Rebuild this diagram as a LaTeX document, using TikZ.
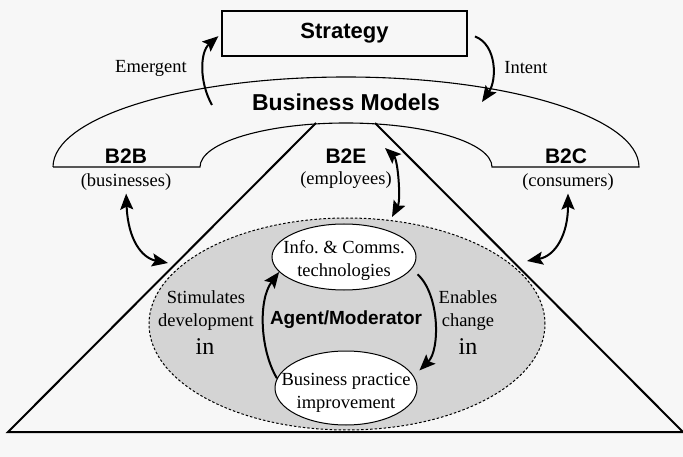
\documentclass[tikz,border=0pt]{standalone}
\usepackage{fontspec}
\setmainfont{Liberation Serif}
\setsansfont{Liberation Sans}
\usetikzlibrary{arrows.meta,shapes.geometric}

\begin{document}
\begin{tikzpicture}[x=1pt,y=-1pt,
	headtxt/.style={font=\sffamily\bfseries\fontsize{#1}{#1}\selectfont, inner sep=0pt},
	txt/.style={font=\fontsize{18.5}{23}\selectfont, inner sep=0pt, align=center},
	intxt/.style={font=\fontsize{24}{24}\selectfont, inner sep=0pt},
	arr/.style={line width=2pt, -{Stealth[length=16pt,width=13pt,inset=3pt]}},
	dblarr/.style={line width=2pt, {Stealth[length=16pt,width=13pt,inset=3pt]}-{Stealth[length=16pt,width=13pt,inset=3pt]}},
	oval/.style={ellipse, draw, line width=1pt, fill=white, inner sep=0pt}]
	\useasboundingbox (0,0) rectangle (683,457);
	\fill[black!3] (0,0) rectangle (683,457);

	\node[ellipse, draw, dash pattern=on 2.5pt off 2pt, line width=1pt, fill=black!17,
		minimum width=396pt, minimum height=212pt] (agent) at (347,324) {};
	\draw[line width=2pt] (316,123) -- (8,432) -- (683,432) -- (375,123);
	\draw[line width=1.1pt] (53,167) -- (200,167)
		arc[start angle=180, end angle=360, x radius=146, y radius=44] -- (639,167)
		arc[start angle=0, end angle=-180, x radius=293, y radius=90];

	\node[draw, line width=1.1pt, minimum width=245pt, minimum height=45pt, headtxt=22] (strategy) at (344.5,33.5) {Strategy};
	\node[headtxt=23] (bm) at (346,102) {Business Models};
	\node[txt] (emergent) at (151,68) {Emergent};
	\node[txt] (intent) at (526,68) {Intent};

	\node[headtxt=21] (b2b) at (126,156) {B2B};
	\node[txt] (biz) at (126,182) {(businesses)};
	\node[headtxt=21] (b2e) at (346,156) {B2E};
	\node[txt] (emp) at (346,180) {(employees)};
	\node[headtxt=21] (b2c) at (566,156) {B2C};
	\node[txt] (cons) at (568,182) {(consumers)};

	\node[headtxt=19] (moderator) at (346,320) {Agent/Moderator};
	\node[oval, minimum width=144pt, minimum height=66pt] (ict) at (344,257) {};
	\node[txt] (icttxt) at (344,260) {Info.\ \& Comms.\\technologies};
	\node[oval, minimum width=142pt, minimum height=74pt] (bpi) at (346,388) {};
	\node[txt] (bpitxt) at (346,393) {Business practice\\improvement};

	\node[txt] (stim) at (206,311) {Stimulates\\development};
	\node[intxt] (stimin) at (205,347) {in};
	\node[txt] (enab) at (468,311) {Enables\\change};
	\node[intxt] (enabin) at (468,347) {in};

	\coordinate (em0) at (212,105);
	\coordinate (in0) at (482,102);
	\coordinate (bb) at (168,263);
	\coordinate (bc) at (527,261);
	\coordinate (be0) at (385,148);
	\coordinate (be1) at (392,217);

	\draw[arr, shorten >=4pt] (em0) .. controls (199,82) and (200,52) .. (strategy.west);
	\draw[arr, shorten <=8pt] (strategy.east) .. controls (497,45) and (497,80) .. (in0);
	\draw[dblarr, shorten <=3pt] (biz.south) .. controls (128,240) and (142,258) .. (bb);
	\draw[dblarr, shorten <=3pt] (cons.south) .. controls (568,235) and (555,256) .. (bc);
	\draw[dblarr] (be0) .. controls (398,160) and (401,200) .. (be1);

	\draw[arr] (bpi.172) .. controls (260,350) and (258,300) .. (ict.193);
	\draw[arr, shorten <=8pt, shorten >=8pt] (ict.-10) .. controls (440,295) and (440,350) .. (bpi.10);

	\end{tikzpicture}
\end{document}
